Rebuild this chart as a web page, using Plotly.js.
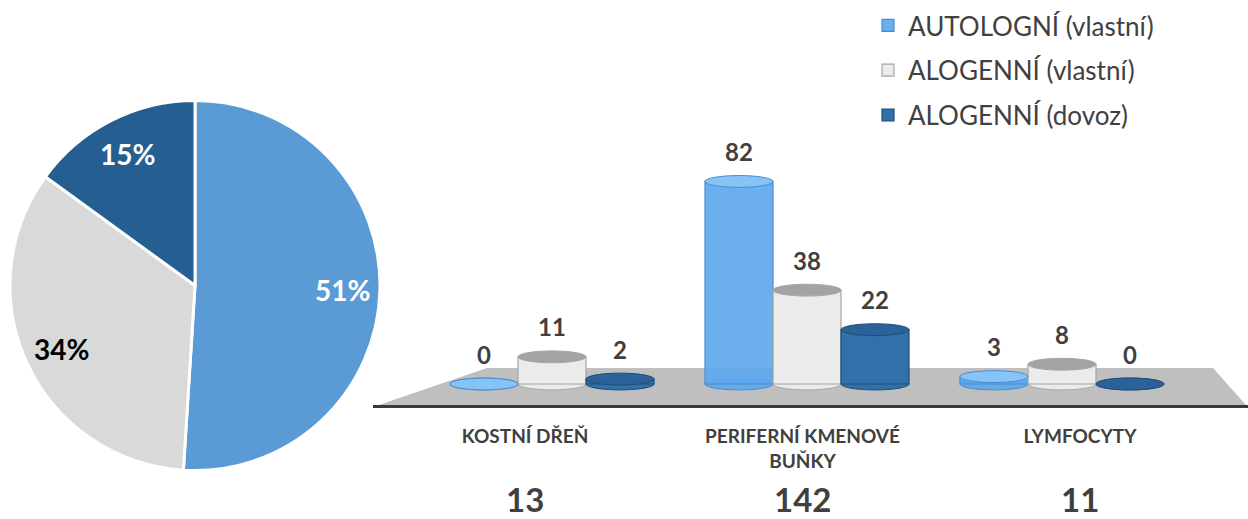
<!DOCTYPE html>
<html>
<head>
<meta charset="utf-8">
<script src="https://cdn.plot.ly/plotly-3.0.1.min.js"></script>
<style>html,body{margin:0;padding:0;background:#fff;}#chart{width:1248px;height:519px;}</style>
</head>
<body>
<div id="chart"></div>
<script>
// ---- data ----
const categories = ['KOSTNÍ DŘEŇ', 'PERIFERNÍ KMENOVÉ<br>BUŇKY', 'LYMFOCYTY'];
const seriesNames = ['AUTOLOGNÍ (vlastní)', 'ALOGENNÍ (vlastní)', 'ALOGENNÍ (dovoz)'];
const autologniVlastni = [0, 82, 3];
const alogenniVlastni = [11, 38, 8];
const alogenniDovoz = [2, 22, 0];
const totals = [13, 142, 11];
const piePercents = [51, 34, 15];

// ---- styles ----
const FONT = 'Lato, "Open Sans", sans-serif';
const TXT = '#404040';
const barFill = ['rgba(95,168,238,0.92)', '#EBEBEB', '#3170AA'];
const barLine = ['#4A8CD0', '#A6A6A6', '#1F4E79'];
const capFill = ['#86C3F7', '#A3A3A3', '#2B6299'];
const pieColors = ['#5B9BD5', '#D9D9D9', '#255E91'];
const pieTextColors = ['#FFFFFF', '#000000', '#FFFFFF'];

const series = [autologniVlastni, alogenniVlastni, alogenniDovoz];
const bargap = 0.2;
const w = (1 - bargap) / series.length;
const capH = 2.4;

const W = 1248, H = 519;
const px = x => x / W, py = y => (H - y) / H;

const pieDom = {x: [px(10), px(380)], y: [py(471), py(100)]};
const plotBottom = 423;
const yDomain = [py(plotBottom), 1];
const yRange = [(384 - plotBottom) / 2.47, 384 / 2.47];

const traces = [];
traces.push({
  type: 'pie',
  values: piePercents,
  labels: seriesNames,
  sort: false,
  direction: 'clockwise',
  rotation: 0,
  marker: {colors: pieColors, line: {color: '#FFFFFF', width: 3}},
  textinfo: 'none',
  domain: pieDom,
  showlegend: false,
  hoverinfo: 'skip'
});

series.forEach((vals, t) => {
  traces.push({
    type: 'bar',
    name: seriesNames[t],
    x: categories,
    y: vals,
    xaxis: 'x', yaxis: 'y',
    marker: {color: barFill[t], line: {color: barLine[t], width: 1.2}},
    legendgroup: 'g' + t,
    hoverinfo: 'skip'
  });
});
// carrier for the category-label axis (front edge of the 3D floor)
traces.push({type: 'scatter', mode: 'none', x: categories, y: categories.map(() => null),
  xaxis: 'x2', yaxis: 'y2', showlegend: false, hoverinfo: 'skip'});

const shapes = [
  {type: 'path', xref: 'paper', yref: 'paper', layer: 'below',
   path: `M ${px(373)},${py(407)} L ${px(487)},${py(368)} L ${px(1213)},${py(368)} L ${px(1246)},${py(405)} Z`,
   fillcolor: '#BFBFBF', line: {width: 0}},
  {type: 'line', xref: 'paper', yref: 'paper', layer: 'below',
   x0: px(373), x1: 1, y0: py(406.5), y1: py(406.5), line: {color: '#3A3A3A', width: 3}}
];
const annotations = [];

series.forEach((vals, t) => {
  vals.forEach((v, c) => {
    const cx = c + (t - (series.length - 1) / 2) * w;
    shapes.push({type: 'circle', xref: 'x', yref: 'y', layer: 'below',
      x0: cx - w / 2, x1: cx + w / 2, y0: -capH, y1: capH,
      fillcolor: barFill[t], line: {color: barLine[t], width: 1}});
    shapes.push({type: 'circle', xref: 'x', yref: 'y', layer: 'above',
      x0: cx - w / 2, x1: cx + w / 2, y0: v - capH, y1: v + capH,
      fillcolor: capFill[t], line: {color: barLine[t], width: 1}});
    annotations.push({xref: 'x', yref: 'y', x: cx, y: v, yshift: 30,
      text: '<b>' + v + '</b>', showarrow: false, yanchor: 'middle',
      font: {family: FONT, size: 24, color: TXT}});
  });
});

totals.forEach((tot, c) => {
  annotations.push({xref: 'x2', yref: 'paper', x: c, y: py(519), yanchor: 'bottom', yshift: -2,
    text: '<b>' + tot + '</b>', showarrow: false,
    font: {family: FONT, size: 33, color: TXT}});
});

// pie labels placed along each slice bisector
const pieTotal = piePercents.reduce((a, b) => a + b, 0);
const pcx = (pieDom.x[0] + pieDom.x[1]) / 2 * W;
const pcy = H - (pieDom.y[0] + pieDom.y[1]) / 2 * H;
const pr = (pieDom.x[1] - pieDom.x[0]) * W / 2;
let cum = 0;
piePercents.forEach((p, i) => {
  const mid = (cum + p / 2) / pieTotal * 2 * Math.PI;
  cum += p;
  const lx = pcx + 0.8 * pr * Math.sin(mid);
  const ly = pcy - 0.8 * pr * Math.cos(mid);
  annotations.push({xref: 'paper', yref: 'paper', x: px(lx), y: py(ly),
    xanchor: 'center', yanchor: 'middle', showarrow: false,
    text: '<b>' + p + '%</b>',
    font: {family: FONT, size: 28, color: pieTextColors[i]}});
});

const layout = {
  width: W, height: H,
  margin: {l: 0, r: 0, t: 0, b: 0},
  paper_bgcolor: '#FFFFFF', plot_bgcolor: 'rgba(0,0,0,0)',
  font: {family: FONT, color: TXT},
  barmode: 'group', bargap: bargap, bargroupgap: 0,
  xaxis: {
    domain: [px(424.5), px(1189.5)],
    range: [-0.5, 2.5], anchor: 'y',
    showgrid: false, zeroline: false, showline: false,
    showticklabels: false, ticks: '',
    fixedrange: true
  },
  xaxis2: {
    domain: [px(386.25), px(1218.75)],
    range: [-0.5, 2.5], anchor: 'y2',
    showgrid: false, zeroline: false, showline: false,
    ticks: '', ticklabelstandoff: 0,
    tickfont: {family: FONT, size: 19, color: TXT, weight: 'bold'},
    fixedrange: true
  },
  yaxis: {
    domain: yDomain, range: yRange, anchor: 'x',
    visible: false, showgrid: false, zeroline: false, fixedrange: true
  },
  yaxis2: {
    domain: yDomain, range: yRange, anchor: 'x2',
    visible: false, showgrid: false, zeroline: false, fixedrange: true
  },
  showlegend: true,
  legend: {
    x: px(868), y: py(2), xanchor: 'left', yanchor: 'top',
    traceorder: 'grouped', tracegroupgap: 8,
    font: {family: FONT, size: 26, color: TXT},
    bgcolor: 'rgba(0,0,0,0)'
  },
  shapes: shapes,
  annotations: annotations
};

Plotly.newPlot('chart', traces, layout, {displayModeBar: false, staticPlot: true});
</script>
</body>
</html>
